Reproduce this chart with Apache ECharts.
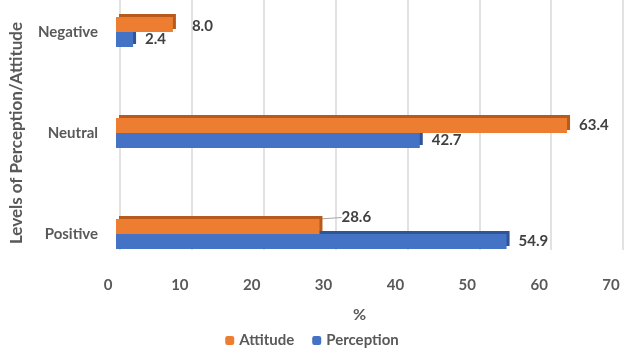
<!DOCTYPE html>
<html>
<head>
<meta charset="utf-8">
<script src="https://cdn.jsdelivr.net/npm/echarts@6/dist/echarts.min.js"></script>
<style>
  html, body { margin: 0; padding: 0; background: #fff; }
  #chart { width: 624px; height: 354px; }
</style>
</head>
<body>
<div id="chart"></div>
<script>
// levels, bottom to top
var levels = ['Positive', 'Neutral', 'Negative'];
var attitude = [28.6, 63.4, 8.0];
var perception = [54.9, 42.7, 2.4];
var xTicks = [0, 10, 20, 30, 40, 50, 60, 70];

var font = 'Lato, "Open Sans", sans-serif';
var grey = '#595959';

var chart = echarts.init(document.getElementById('chart'));

function labelOpt() {
    return {
        show: true,
        position: 'right',
        distance: 12,
        fontFamily: font,
        fontWeight: 'bold',
        fontSize: 15,
        color: '#404040',
        formatter: function (p) { return p.value.toFixed(1); }
    };
}

var attData = attitude.map(function (v, i) {
    var d = { value: v };
    if (levels[i] === 'Positive') d.labelLine = { show: true, lineStyle: { color: '#A6A6A6', width: 1 } };
    return d;
});

var option = {
    animation: false,
    textStyle: { fontFamily: font },
    legend: {
        data: ['Attitude', 'Perception'],
        bottom: 1,
        left: 'center',
        itemWidth: 9,
        itemHeight: 9,
        itemGap: 18,
        textStyle: { fontFamily: font, fontWeight: 'bold', fontSize: 15, color: grey }
    },
    grid: [
        { left: 111, right: 10, top: 32, bottom: 120 },   // bars (category centres at edges)
        { left: 120, right: 1, top: 0, bottom: 104 },     // back wall gridlines
        { left: 108, right: 13, top: 0, bottom: 84 }      // tick labels + name
    ],
    xAxis: [
        { gridIndex: 0, type: 'value', min: 0, max: 70, interval: 10, show: false },
        {
            gridIndex: 1, type: 'value', min: 0, max: 70, interval: 10,
            axisLine: { show: false }, axisTick: { show: false }, axisLabel: { show: false },
            splitLine: { show: true, lineStyle: { color: '#D9D9D9', width: 1.5 } }
        },
        {
            gridIndex: 2, type: 'value', min: 0, max: 70, interval: 10,
            axisLine: { show: false }, axisTick: { show: false }, splitLine: { show: false },
            axisLabel: {
                margin: 8, fontFamily: font, fontWeight: 'bold', fontSize: 15, color: grey,
                formatter: function (v) { return xTicks.indexOf(v) >= 0 ? String(v) : ''; }
            },
            name: '%',
            nameLocation: 'middle',
            nameGap: 37,
            nameTextStyle: { fontFamily: font, fontWeight: 'bold', fontSize: 16, color: grey }
        }
    ],
    yAxis: [
        {
            gridIndex: 0, type: 'category', data: levels, boundaryGap: false,
            axisLine: { show: false }, axisTick: { show: false }, splitLine: { show: false },
            axisLabel: { margin: 18, fontFamily: font, fontWeight: 'bold', fontSize: 15, color: grey },
            name: 'Levels of Perception/Attitude',
            nameLocation: 'middle',
            nameGap: 91,
            nameTextStyle: { fontFamily: font, fontWeight: 'bold', fontSize: 17, color: grey }
        },
        { gridIndex: 1, type: 'value', show: false },
        { gridIndex: 2, type: 'value', show: false }
    ],
    series: [
        {
            name: 'Attitude',
            type: 'bar',
            xAxisIndex: 0, yAxisIndex: 0,
            data: attData,
            barWidth: 15,
            barGap: '0%',
            z: 3,
            itemStyle: {
                color: '#ED7D31',
                shadowColor: '#B85A1B',
                shadowOffsetX: 3,
                shadowOffsetY: -3,
                shadowBlur: 0
            },
            label: labelOpt(),
            labelLayout: function (p) {
                if (p.dataIndex === 0) return { dx: 10, dy: -9 };
                if (p.dataIndex === 2) return { dx: 7, dy: 2 };
            }
        },
        {
            name: 'Perception',
            type: 'bar',
            xAxisIndex: 0, yAxisIndex: 0,
            data: perception,
            barWidth: 15,
            barGap: '0%',
            z: 2,
            itemStyle: {
                color: '#4472C4',
                shadowColor: '#2F5597',
                shadowOffsetX: 3,
                shadowOffsetY: -3,
                shadowBlur: 0
            },
            label: labelOpt()
        }
    ]
};

chart.setOption(option);
</script>
</body>
</html>
